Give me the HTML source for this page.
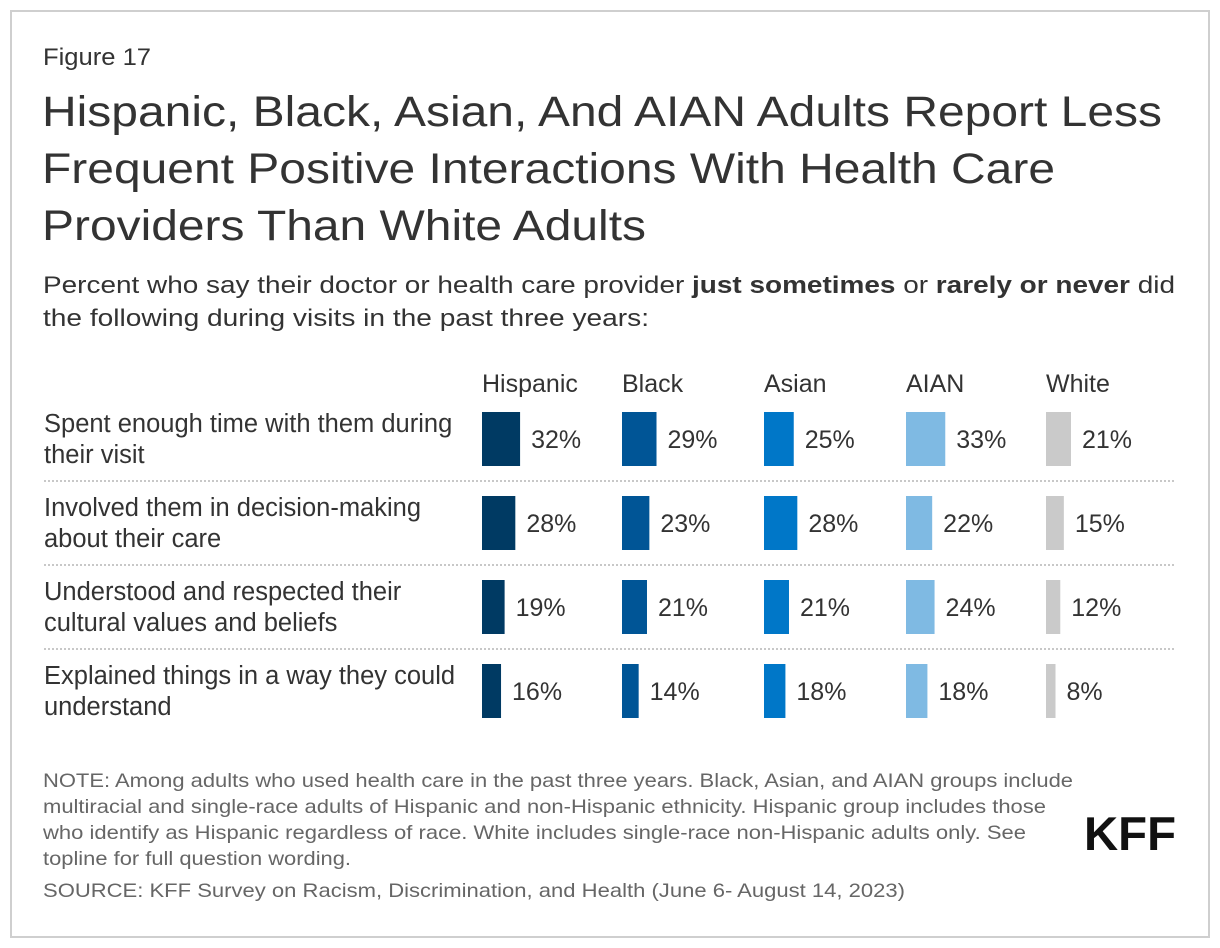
<!DOCTYPE html>
<html><head><meta charset="utf-8"><style>
html,body{margin:0;padding:0;background:#fff;}
svg{display:block;font-family:"Liberation Sans",Arial,sans-serif;}
</style></head><body>
<svg id="chart" width="1220" height="948" viewBox="0 0 1220 948">
<rect x="11" y="11" width="1198" height="926" fill="#fff" stroke="#cfcfcf" stroke-width="2"/>
<text x="43" y="65" font-size="24" fill="#333" textLength="108" lengthAdjust="spacingAndGlyphs">Figure 17</text>
<g font-size="43" fill="#333">
<text x="42" y="126" textLength="1120" lengthAdjust="spacingAndGlyphs">Hispanic, Black, Asian, And AIAN Adults Report Less</text>
<text x="42" y="183" textLength="1013" lengthAdjust="spacingAndGlyphs">Frequent Positive Interactions With Health Care</text>
<text x="42" y="240" textLength="604" lengthAdjust="spacingAndGlyphs">Providers Than White Adults</text>
</g>
<g font-size="24.5" fill="#333">
<text x="43" y="293" textLength="1132" lengthAdjust="spacingAndGlyphs">Percent who say their doctor or health care provider <tspan font-weight="bold">just sometimes</tspan> or <tspan font-weight="bold">rarely or never</tspan> did</text>
<text x="43" y="326" textLength="606" lengthAdjust="spacingAndGlyphs">the following during visits in the past three years:</text>
</g>
<g id="plot"></g>
<g font-size="19.5" fill="#666">
<text x="43" y="787" textLength="1030" lengthAdjust="spacingAndGlyphs">NOTE: Among adults who used health care in the past three years. Black, Asian, and AIAN groups include</text>
<text x="43" y="813" textLength="1003" lengthAdjust="spacingAndGlyphs">multiracial and single-race adults of Hispanic and non-Hispanic ethnicity. Hispanic group includes those</text>
<text x="43" y="839" textLength="983" lengthAdjust="spacingAndGlyphs">who identify as Hispanic regardless of race. White includes single-race non-Hispanic adults only. See</text>
<text x="43" y="865" textLength="308" lengthAdjust="spacingAndGlyphs">topline for full question wording.</text>
<text x="43" y="897" textLength="862" lengthAdjust="spacingAndGlyphs">SOURCE: KFF Survey on Racism, Discrimination, and Health (June 6- August 14, 2023)</text>
</g>
<text x="1084" y="850" font-size="47" font-weight="bold" fill="#111" textLength="92" lengthAdjust="spacingAndGlyphs">KFF</text>
</svg>
<script>
const groups = ["Hispanic","Black","Asian","AIAN","White"];
const rowLabels = [["Spent enough time with them during","their visit"],["Involved them in decision-making","about their care"],["Understood and respected their","cultural values and beliefs"],["Explained things in a way they could","understand"]];
const hispanic = [32,28,19,16];
const black = [29,23,21,14];
const asian = [25,28,21,18];
const aian = [33,22,24,18];
const white = [21,15,12,8];
const series = [hispanic,black,asian,aian,white];
const colors = ["#003a63","#005596","#0077c8","#7fbae3","#cacaca"];

const NS="http://www.w3.org/2000/svg";
const plot=document.getElementById('plot');
const colX=[482,622,764,906,1046];
const pxPerPct=1.19;
const xScale=v=>v*pxPerPct;
const rowTop=i=>412+i*84;
const barH=54;
function mk(tag,attrs){const e=document.createElementNS(NS,tag);for(const k in attrs)e.setAttribute(k,attrs[k]);plot.appendChild(e);return e;}

groups.forEach((g,j)=>{
  const t=mk('text',{x:colX[j],y:392,'font-size':25,fill:'#333'});
  t.textContent=g;
  
  
});
rowLabels.forEach((lines,i)=>{
  lines.forEach((ln,k)=>{
    const t=mk('text',{x:44,y:rowTop(i)+20+k*31,'font-size':25.5,fill:'#333'});
    t.textContent=ln;
    
    
  });
  if(i<rowLabels.length-1){
    const l=mk('line',{x1:44,x2:1175,y1:rowTop(i)+69,y2:rowTop(i)+69,stroke:'#c8c8c8','stroke-width':2,'stroke-dasharray':'2,2'});
    
    
  }
  series.forEach((s,j)=>{
    const w=xScale(s[i]);
    const r=mk('rect',{x:colX[j],y:rowTop(i),width:w,height:barH,fill:colors[j]});
    
    
    const t=mk('text',{x:colX[j]+w+11,y:rowTop(i)+36,'font-size':25,fill:'#333'});
    t.textContent=s[i]+'%';
    
    
  });
});
</script>
</body></html>
